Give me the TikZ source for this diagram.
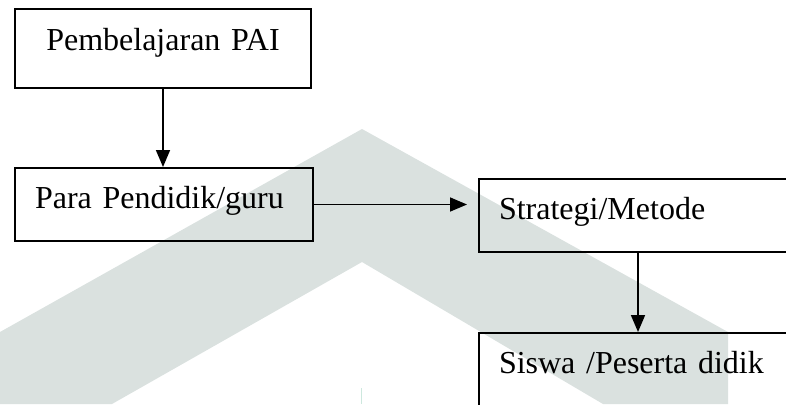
\documentclass[tikz,border=0pt]{standalone}
\usepackage{fontspec}
\setmainfont{Liberation Serif}
\usetikzlibrary{arrows.meta}

\definecolor{wmgray}{RGB}{218,225,223}
\definecolor{wmline}{RGB}{205,232,222}

\begin{document}
\begin{tikzpicture}[x=1pt, y=-1pt, every node/.style={font=\fontsize{32}{38}\selectfont},
	>={Triangle[length=17pt, width=14pt]},
	box/.style={draw, line width=2pt, anchor=north west, inner xsep=20pt, inner ysep=0pt,
		text height=40pt, text depth=33pt, align=left},
	flow/.style={->, line width=1.7pt}]
	\clip (0,0) rectangle (786,404);
	% watermark behind the chart
	\fill[wmgray] (0,332) -- (362,129) -- (728,332) -- (728,404) -- (603,404)
		-- (362,262) -- (112,404) -- (0,404) -- cycle;
	\draw[wmline, line width=1pt] (361,388) -- (361,404);
	% boxes
	\node[box, text width=256pt, align=center, text height=42pt, text depth=37pt] (pai) at (14,8) {Pembelajaran PAI};
	\node[box, text width=258pt] (guru) at (14,167) {Para Pendidik/guru};
	\node[box, text width=320pt] (metode) at (478,178) {Strategi/Metode};
	\node[box, text width=320pt, text depth=120pt] (siswa) at (478,332) {Siswa /Peserta didik};
	% arrows
	\draw[flow] (pai.south) -- (pai.south |- guru.north);
	\draw[flow] (guru.east) -- ([xshift=-11pt]metode.west |- guru.east);
	\draw[flow] ([xshift=160pt]metode.south west) -- ([xshift=160pt]siswa.north west);
\end{tikzpicture}
\end{document}
